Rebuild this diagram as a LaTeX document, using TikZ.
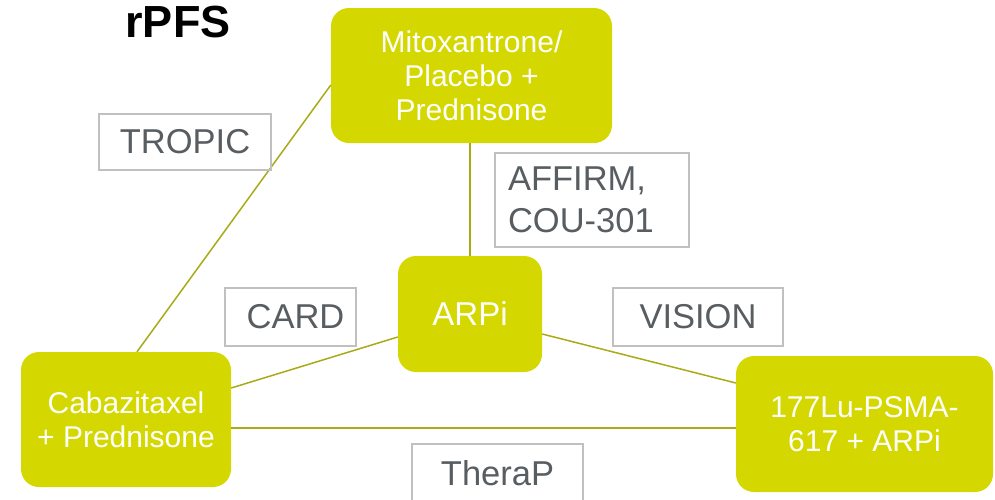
\documentclass[tikz,border=0pt]{standalone}
\usepackage{fontspec}
\setmainfont{Liberation Sans}
\definecolor{lime}{RGB}{212,216,0}
\definecolor{olive}{RGB}{168,170,22}
\definecolor{labelgray}{RGB}{87,93,97}
\definecolor{framegray}{RGB}{192,192,192}

\begin{document}
\begin{tikzpicture}[x=1pt,y=-1pt,
  treat/.style={fill=lime, rounded corners=18pt, text=white, align=center,
    font=\fontsize{30}{34}\selectfont, inner sep=0pt},
  trial/.style={draw=framegray, line width=1.3pt, text=labelgray,
    font=\fontsize{34.5}{42}\selectfont, inner sep=0pt},
  link/.style={draw=olive, line width=1.5pt}]
\clip (0,0) rectangle (995,499);

% title
\node[font=\fontsize{45}{50}\selectfont\bfseries] (title) at (178,22) {rPFS};

% treatment arms
\node[treat, minimum width=281pt, minimum height=135pt] (mito) at (471.5,75.5)
  {Mitoxantrone/\\Placebo +\\Prednisone};
\node[treat, minimum width=144pt, minimum height=116pt,
  font=\fontsize{33}{38}\selectfont] (arpi) at (470,314) {ARPi};
\node[treat, minimum width=210pt, minimum height=135pt] (caba) at (126,419.5)
  {Cabazitaxel\\+ Prednisone};
\node[treat, minimum width=257pt, minimum height=136pt] (lu) at (864.5,424)
  {177Lu-PSMA-\\617 + ARPi};

% comparisons between arms
\draw[link] ([yshift=-9.5pt]mito.west) -- ([xshift=11pt]caba.north);
\draw[link] (arpi.north |- mito.south) -- (arpi.north);
\draw[link] ([yshift=-23pt]arpi.west) -- ([yshift=31.5pt]caba.east);
\draw[link] ([yshift=-20pt]arpi.east) -- ([yshift=41pt]lu.west);
\draw[link] ([yshift=-8.5pt]caba.east) -- ([yshift=-4pt]lu.west);

% trial names
\node[trial, minimum width=172pt, minimum height=56pt] (tropic) at (185,142) {TROPIC};
\node[trial, text width=168pt, inner xsep=13pt, minimum height=94pt, align=left]
  (affirm) at (592,200) {AFFIRM,\\COU-301};
\node[trial, minimum width=131pt, minimum height=58pt] (card) at (290.5,317)
  {\hspace*{10pt}CARD};
\node[trial, minimum width=170pt, minimum height=58pt] (vision) at (698,317) {VISION};
\node[trial, minimum width=171pt, minimum height=58pt] (therap) at (497.5,473) {TheraP};
\end{tikzpicture}
\end{document}
